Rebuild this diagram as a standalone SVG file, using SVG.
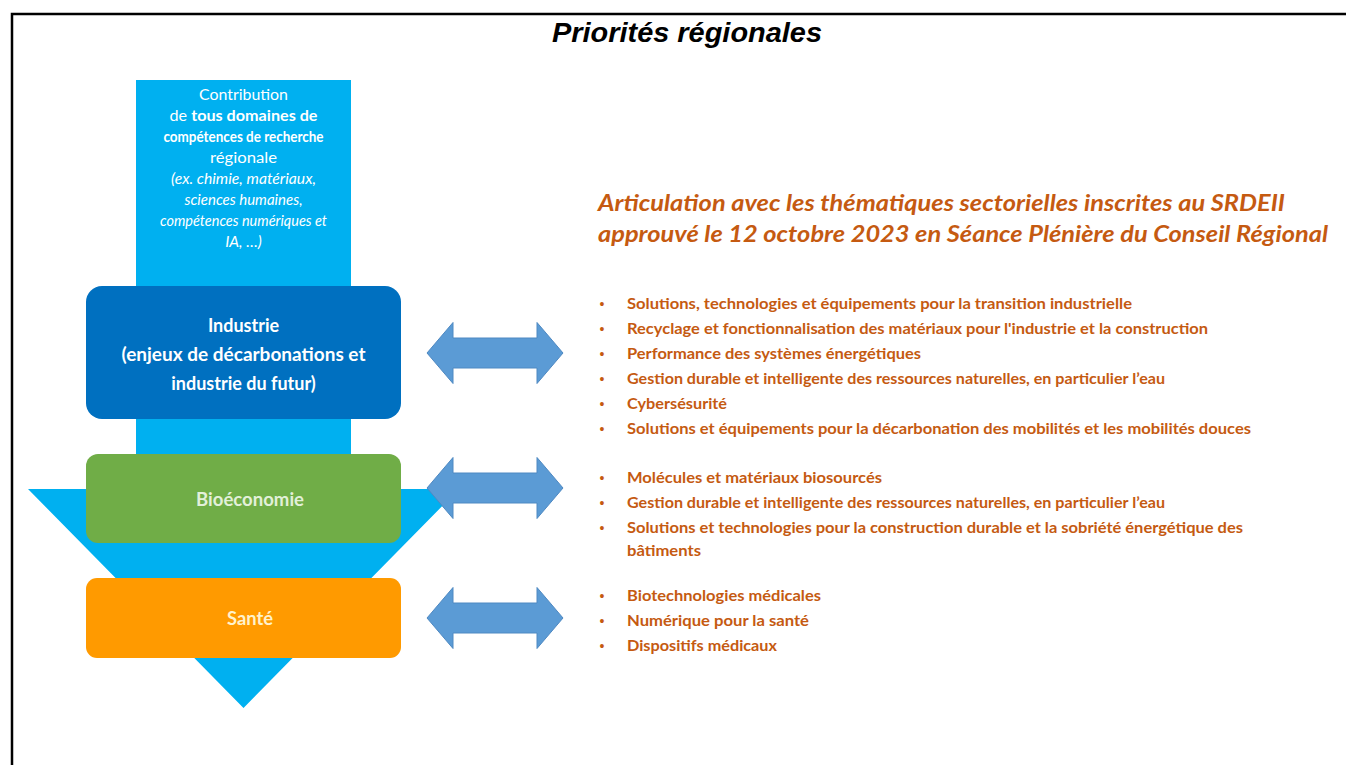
<svg xmlns="http://www.w3.org/2000/svg" width="1346" height="765" viewBox="0 0 1346 765">
<style>
.frame{fill:none;stroke:#000;stroke-width:2.5}
.title{font-family:"Liberation Sans",Arial,sans-serif;font-weight:bold;font-style:italic;font-size:28px;fill:#000;text-anchor:middle}
.col{font-family:Lato,"Open Sans",sans-serif;font-size:15.5px;fill:#fff;text-anchor:middle}
.b{font-weight:bold}
.i{font-style:italic}
.box{font-family:Lato,"Open Sans",sans-serif;font-weight:bold;font-size:18px;text-anchor:middle}
.head{font-family:Lato,"Open Sans",sans-serif;font-weight:bold;font-style:italic;font-size:22px;fill:#C55A11}
.li{font-family:Lato,"Open Sans",sans-serif;font-weight:bold;font-size:16px;fill:#C55A11}
.bul{font-family:"Liberation Sans",Arial,sans-serif;font-size:14px;fill:#C55A11;text-anchor:middle}
.arrow{fill:#5B9BD5;stroke:#4F89C2;stroke-width:1}
</style>
<defs>
<path id="dbl" d="M0,0 L26,-30.5 L26,-15 L110,-15 L110,-30.5 L136,0 L110,30.5 L110,15 L26,15 L26,30.5 Z"/>
</defs>
<rect width="1346" height="765" fill="#fff"/>
<path class="frame" d="M12,765 L12,14 L1346,14"/>
<text class="title" x="687" y="42" textLength="270" lengthAdjust="spacingAndGlyphs">Priorités régionales</text>

<g id="column">
<polygon points="136,80 351,80 351,489 459,489 243.5,708 28,489 136,489" fill="#00B0F0"/>
<text class="col" x="243.5" y="100" textLength="89" lengthAdjust="spacingAndGlyphs">Contribution</text>
<text class="col" x="243.5" y="121" textLength="148" lengthAdjust="spacingAndGlyphs">de <tspan class="b">tous domaines de</tspan></text>
<text class="col b" x="243.5" y="142" textLength="160" lengthAdjust="spacingAndGlyphs">compétences de recherche</text>
<text class="col" x="243.5" y="163" textLength="67" lengthAdjust="spacingAndGlyphs">régionale</text>
<text class="col i" x="243.5" y="184" textLength="145" lengthAdjust="spacingAndGlyphs">(ex. chimie, matériaux,</text>
<text class="col i" x="243.5" y="205" textLength="118" lengthAdjust="spacingAndGlyphs">sciences humaines,</text>
<text class="col i" x="243.5" y="226" textLength="167" lengthAdjust="spacingAndGlyphs">compétences numériques et</text>
<text class="col i" x="243.5" y="247">IA, …)</text>
</g>

<g id="industrie">
<rect x="86" y="286" width="315" height="133" rx="16" fill="#0070C0"/>
<text class="box" x="243.5" y="332" fill="#fff">Industrie</text>
<text class="box" x="243.5" y="361" fill="#fff" textLength="244" lengthAdjust="spacingAndGlyphs">(enjeux de décarbonations et</text>
<text class="box" x="243.5" y="390" fill="#fff">industrie du futur)</text>
</g>

<g id="bioeconomie">
<rect x="86" y="454" width="315" height="89" rx="12" fill="#70AD47"/>
<text class="box" x="250" y="506" fill="#E2F0D9" textLength="108" lengthAdjust="spacingAndGlyphs">Bioéconomie</text>
</g>

<g id="sante">
<rect x="86" y="578" width="315" height="80" rx="11" fill="#FF9A00"/>
<text class="box" x="250" y="625" fill="#FFF2CC" textLength="46" lengthAdjust="spacingAndGlyphs">Santé</text>
</g>

<g id="connectors">
<use href="#dbl" class="arrow" x="427" y="353"/>
<use href="#dbl" class="arrow" x="427" y="488"/>
<use href="#dbl" class="arrow" x="427" y="618"/>
</g>

<g id="heading">
<text class="head" x="598" y="211" textLength="687" lengthAdjust="spacingAndGlyphs">Articulation avec les thématiques sectorielles inscrites au SRDEII</text>
<text class="head" x="598" y="242" textLength="730" lengthAdjust="spacingAndGlyphs">approuvé le 12 octobre 2023 en Séance Plénière du Conseil Régional</text>
</g>

<g id="list-industrie">
<text class="bul" x="602" y="309">•</text>
<text class="li" x="627" y="309" textLength="505" lengthAdjust="spacingAndGlyphs">Solutions, technologies et équipements pour la transition industrielle</text>
<text class="bul" x="602" y="334">•</text>
<text class="li" x="627" y="334" textLength="581" lengthAdjust="spacingAndGlyphs">Recyclage et fonctionnalisation des matériaux pour l'industrie et la construction</text>
<text class="bul" x="602" y="359">•</text>
<text class="li" x="627" y="359" textLength="294" lengthAdjust="spacingAndGlyphs">Performance des systèmes énergétiques</text>
<text class="bul" x="602" y="384">•</text>
<text class="li" x="627" y="384" textLength="538" lengthAdjust="spacingAndGlyphs">Gestion durable et intelligente des ressources naturelles, en particulier l’eau</text>
<text class="bul" x="602" y="409">•</text>
<text class="li" x="627" y="409" textLength="100" lengthAdjust="spacingAndGlyphs">Cybersésurité</text>
<text class="bul" x="602" y="434">•</text>
<text class="li" x="627" y="434" textLength="624" lengthAdjust="spacingAndGlyphs">Solutions et équipements pour la décarbonation des mobilités et les mobilités douces</text>
</g>

<g id="list-bioeconomie">
<text class="bul" x="602" y="483">•</text>
<text class="li" x="627" y="483" textLength="255" lengthAdjust="spacingAndGlyphs">Molécules et matériaux biosourcés</text>
<text class="bul" x="602" y="508">•</text>
<text class="li" x="627" y="508" textLength="538" lengthAdjust="spacingAndGlyphs">Gestion durable et intelligente des ressources naturelles, en particulier l’eau</text>
<text class="bul" x="602" y="533">•</text>
<text class="li" x="627" y="533" textLength="616" lengthAdjust="spacingAndGlyphs">Solutions et technologies pour la construction durable et la sobriété énergétique des</text>
<text class="li" x="627" y="556" textLength="74" lengthAdjust="spacingAndGlyphs">bâtiments</text>
</g>

<g id="list-sante">
<text class="bul" x="602" y="601">•</text>
<text class="li" x="627" y="601" textLength="194" lengthAdjust="spacingAndGlyphs">Biotechnologies médicales</text>
<text class="bul" x="602" y="626">•</text>
<text class="li" x="627" y="626" textLength="182" lengthAdjust="spacingAndGlyphs">Numérique pour la santé</text>
<text class="bul" x="602" y="651">•</text>
<text class="li" x="627" y="651" textLength="150" lengthAdjust="spacingAndGlyphs">Dispositifs médicaux</text>
</g>
</svg>
